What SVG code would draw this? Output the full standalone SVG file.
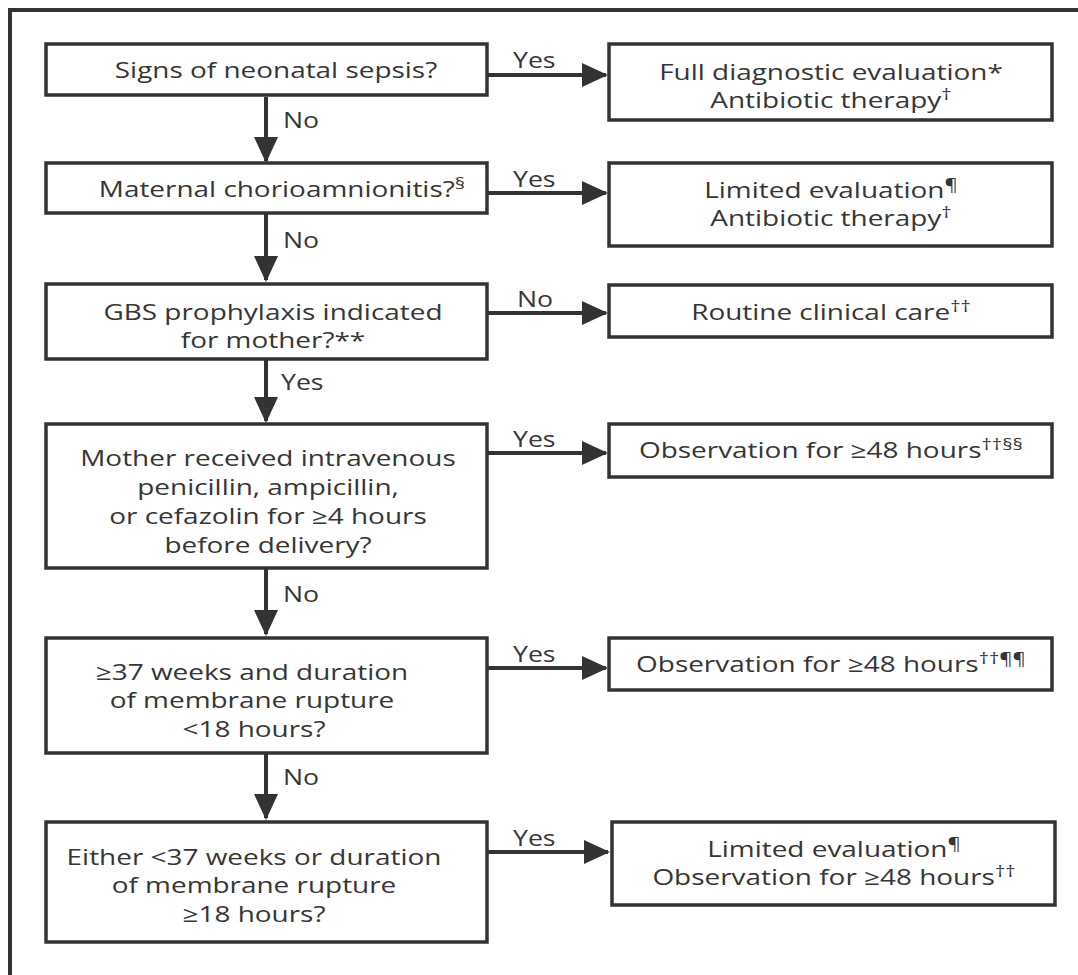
<svg xmlns="http://www.w3.org/2000/svg" width="1078" height="975" viewBox="0 0 1078 975">
<style>
  .box { fill: #fff; stroke: #333; stroke-width: 3.5; }
  .frame { fill: none; stroke: #333; stroke-width: 4; }
  .edge { fill: none; stroke: #333; stroke-width: 4; }
  text { font-family: "Open Sans", "Noto Sans", "DejaVu Sans", sans-serif; font-size: 22px; fill: #363636; }
  .c { text-anchor: middle; }
  .lbl { font-size: 21px; }
  .sup { font-size: 16px; }
</style>
<defs>
  <marker id="ah" markerUnits="userSpaceOnUse" markerWidth="26" markerHeight="24" refX="24" refY="12" orient="auto">
    <path d="M0,0 L26,12 L0,24 z" fill="#333"/>
  </marker>
</defs>
<rect width="1078" height="975" fill="#fff"/>
<path class="frame" d="M10,975 L10,10 L1078,10"/>

<g id="connectors">
  <line class="edge" x1="487" y1="75" x2="606" y2="75" marker-end="url(#ah)"/>
  <line class="edge" x1="487" y1="193" x2="606" y2="193" marker-end="url(#ah)"/>
  <line class="edge" x1="487" y1="313" x2="606" y2="313" marker-end="url(#ah)"/>
  <line class="edge" x1="487" y1="453" x2="606" y2="453" marker-end="url(#ah)"/>
  <line class="edge" x1="487" y1="668" x2="606" y2="668" marker-end="url(#ah)"/>
  <line class="edge" x1="487" y1="852" x2="608" y2="852" marker-end="url(#ah)"/>
  <line class="edge" x1="266" y1="97" x2="266" y2="161" marker-end="url(#ah)"/>
  <line class="edge" x1="266" y1="214" x2="266" y2="280" marker-end="url(#ah)"/>
  <line class="edge" x1="266" y1="360" x2="266" y2="421" marker-end="url(#ah)"/>
  <line class="edge" x1="266" y1="569" x2="266" y2="634" marker-end="url(#ah)"/>
  <line class="edge" x1="266" y1="754" x2="266" y2="818" marker-end="url(#ah)"/>
  <text class="lbl" x="513" y="68" transform="matrix(1.27,0,0,1,-138.51,0)">Yes</text>
  <text class="lbl" x="513" y="187" transform="matrix(1.27,0,0,1,-138.51,0)">Yes</text>
  <text class="lbl" x="517" y="307" transform="matrix(1.27,0,0,1,-139.59,0)">No</text>
  <text class="lbl" x="513" y="447" transform="matrix(1.27,0,0,1,-138.51,0)">Yes</text>
  <text class="lbl" x="513" y="662" transform="matrix(1.27,0,0,1,-138.51,0)">Yes</text>
  <text class="lbl" x="513" y="846" transform="matrix(1.27,0,0,1,-138.51,0)">Yes</text>
  <text class="lbl" x="283" y="128" transform="matrix(1.27,0,0,1,-76.41,0)">No</text>
  <text class="lbl" x="283" y="248" transform="matrix(1.27,0,0,1,-76.41,0)">No</text>
  <text class="lbl" x="281" y="390" transform="matrix(1.27,0,0,1,-75.87,0)">Yes</text>
  <text class="lbl" x="283" y="602" transform="matrix(1.27,0,0,1,-76.41,0)">No</text>
  <text class="lbl" x="283" y="785" transform="matrix(1.27,0,0,1,-76.41,0)">No</text>
</g>

<g id="q1">
  <rect class="box" x="46" y="44" width="441" height="51"/>
  <text class="c" x="276" y="78" transform="matrix(1.27,0,0,1,-74.52,0)">Signs of neonatal sepsis?</text>
</g>
<g id="q2">
  <rect class="box" x="46" y="163" width="441" height="50"/>
  <text class="c" x="282" y="197" transform="matrix(1.27,0,0,1,-76.14,0)">Maternal chorioamnionitis?<tspan class="sup" dy="-8">§</tspan></text>
</g>
<g id="q3">
  <rect class="box" x="46" y="284" width="441" height="75"/>
  <text class="c" x="273" y="320" transform="matrix(1.27,0,0,1,-73.71,0)">GBS prophylaxis indicated</text>
  <text class="c" x="273" y="348" transform="matrix(1.27,0,0,1,-73.71,0)">for mother?**</text>
</g>
<g id="q4">
  <rect class="box" x="46" y="424" width="441" height="144"/>
  <text class="c" x="268" y="466" transform="matrix(1.27,0,0,1,-72.36,0)">Mother received intravenous</text>
  <text class="c" x="268" y="495" transform="matrix(1.27,0,0,1,-72.36,0)">penicillin, ampicillin,</text>
  <text class="c" x="268" y="524" transform="matrix(1.27,0,0,1,-72.36,0)">or cefazolin for ≥4 hours</text>
  <text class="c" x="268" y="553" transform="matrix(1.27,0,0,1,-72.36,0)">before delivery?</text>
</g>
<g id="q5">
  <rect class="box" x="46" y="638" width="441" height="115"/>
  <text class="c" x="252" y="680" transform="matrix(1.27,0,0,1,-68.04,0)">≥37 weeks and duration</text>
  <text class="c" x="252" y="708" transform="matrix(1.27,0,0,1,-68.04,0)">of membrane rupture</text>
  <text class="c" x="254" y="737" transform="matrix(1.27,0,0,1,-68.58,0)">&lt;18 hours?</text>
</g>
<g id="q6">
  <rect class="box" x="46" y="822" width="441" height="120"/>
  <text class="c" x="254" y="865" transform="matrix(1.27,0,0,1,-68.58,0)">Either &lt;37 weeks or duration</text>
  <text class="c" x="254" y="893" transform="matrix(1.27,0,0,1,-68.58,0)">of membrane rupture</text>
  <text class="c" x="254" y="922" transform="matrix(1.27,0,0,1,-68.58,0)">≥18 hours?</text>
</g>

<g id="r1">
  <rect class="box" x="609" y="44" width="443" height="76"/>
  <text class="c" x="831" y="80" transform="matrix(1.27,0,0,1,-224.37,0)">Full diagnostic evaluation*</text>
  <text class="c" x="831" y="108" transform="matrix(1.27,0,0,1,-224.37,0)">Antibiotic therapy<tspan class="sup" dy="-8">†</tspan></text>
</g>
<g id="r2">
  <rect class="box" x="609" y="163" width="443" height="83"/>
  <text class="c" x="831" y="198" transform="matrix(1.27,0,0,1,-224.37,0)">Limited evaluation<tspan class="sup" dy="-8">¶</tspan></text>
  <text class="c" x="831" y="226" transform="matrix(1.27,0,0,1,-224.37,0)">Antibiotic therapy<tspan class="sup" dy="-8">†</tspan></text>
</g>
<g id="r3">
  <rect class="box" x="609" y="285" width="443" height="52"/>
  <text class="c" x="831" y="320" transform="matrix(1.27,0,0,1,-224.37,0)">Routine clinical care<tspan class="sup" dy="-8">††</tspan></text>
</g>
<g id="r4">
  <rect class="box" x="609" y="424" width="443" height="53"/>
  <text class="c" x="831" y="458" transform="matrix(1.27,0,0,1,-224.37,0)">Observation for ≥48 hours<tspan class="sup" dy="-8">††§§</tspan></text>
</g>
<g id="r5">
  <rect class="box" x="609" y="638" width="443" height="52"/>
  <text class="c" x="831" y="672" transform="matrix(1.27,0,0,1,-224.37,0)">Observation for ≥48 hours<tspan class="sup" dy="-8">††¶¶</tspan></text>
</g>
<g id="r6">
  <rect class="box" x="612" y="822" width="443" height="83"/>
  <text class="c" x="834" y="857" transform="matrix(1.27,0,0,1,-225.18,0)">Limited evaluation<tspan class="sup" dy="-8">¶</tspan></text>
  <text class="c" x="834" y="885" transform="matrix(1.27,0,0,1,-225.18,0)">Observation for ≥48 hours<tspan class="sup" dy="-8">††</tspan></text>
</g>
</svg>
